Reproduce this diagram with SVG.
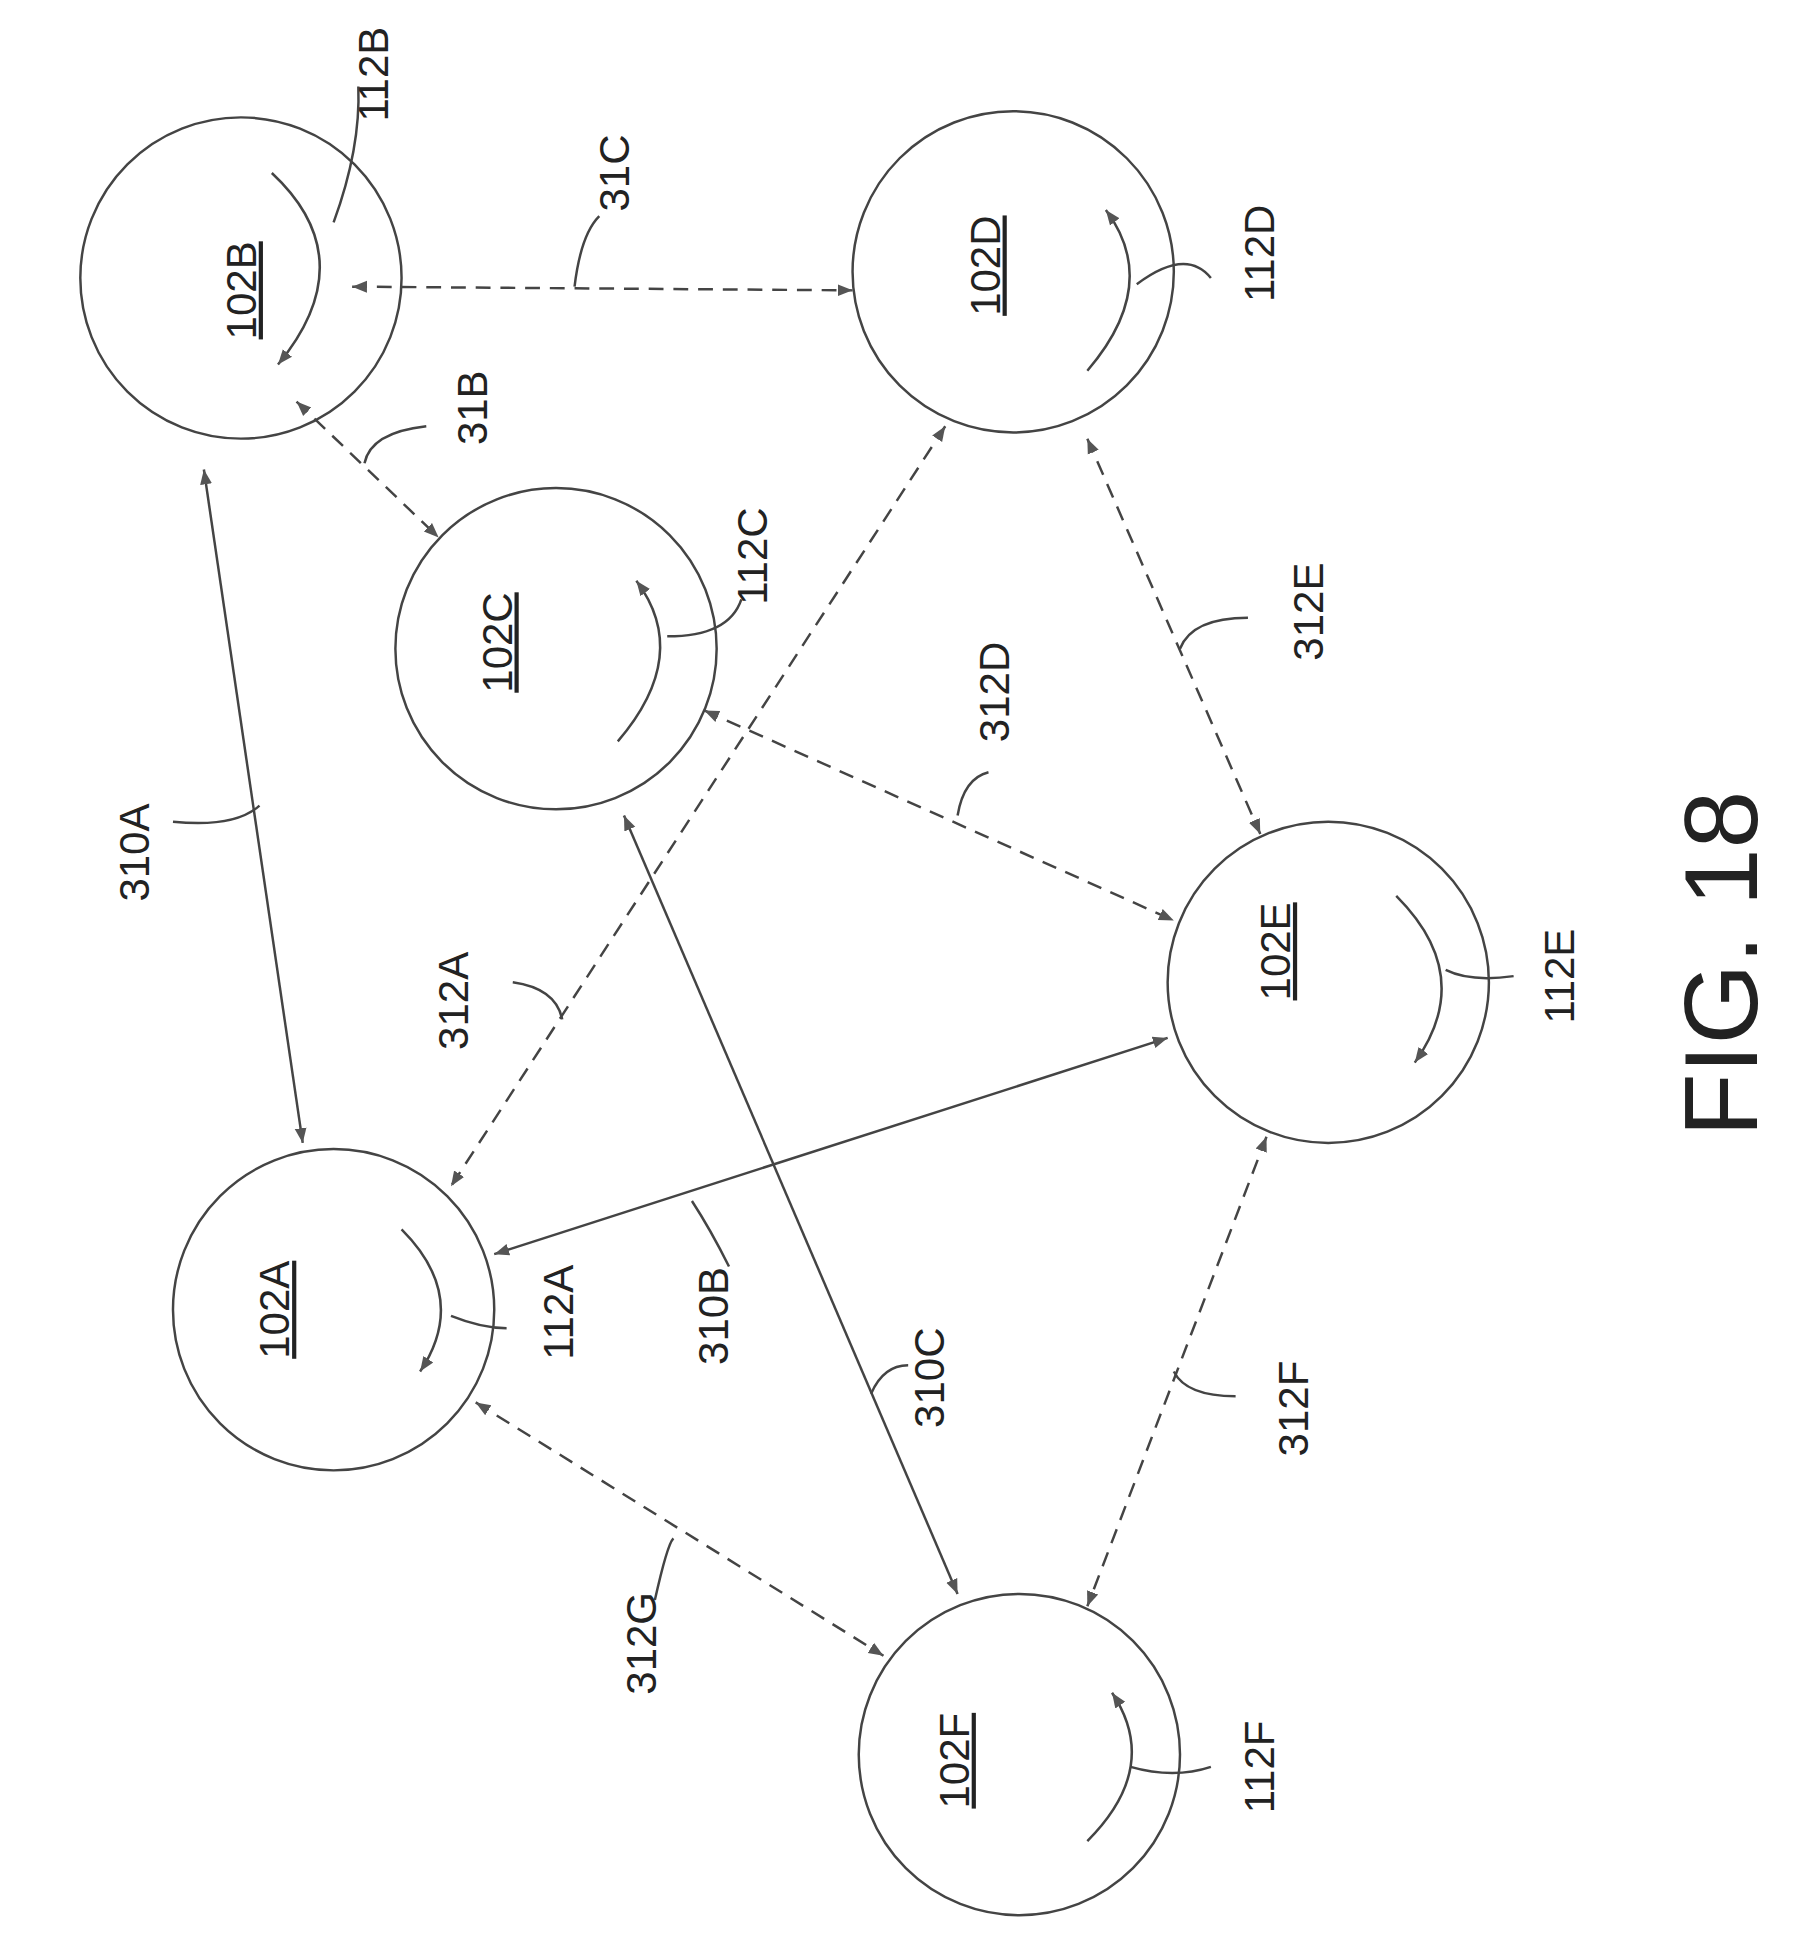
<svg xmlns="http://www.w3.org/2000/svg" width="1799" height="1951" viewBox="0 0 1799 1951">
<style>
.n{fill:none;stroke:#444;stroke-width:2}
.s{fill:none;stroke:#444;stroke-width:2}
.d{stroke-dasharray:12,8}
text{font-family:"Liberation Sans",Arial,sans-serif;font-size:34px;fill:#222;text-anchor:middle;dominant-baseline:middle}
.u{text-decoration:underline}
</style>
<defs>
<marker id="a" viewBox="0 0 10 10" refX="10" refY="5" markerWidth="12" markerHeight="12" markerUnits="userSpaceOnUse" orient="auto-start-reverse"><path d="M0,1L10,5L0,9Z" fill="#555"/></marker>
</defs>
<rect width="1799" height="1951" fill="#fff"/>
<g transform="scale(1.2356)">
<g id="n102B"><circle class="n" cx="195" cy="225" r="130"/><text class="u" transform="translate(198,235) rotate(-90)">102B</text><path class="s" d="M220,140 Q295,210 225,295" marker-end="url(#a)"/></g>
<g id="n102D"><circle class="n" cx="820" cy="220" r="130"/><text class="u" transform="translate(800,215) rotate(-90)">102D</text><path class="s" d="M880,300 Q940,230 895,170" marker-end="url(#a)"/></g>
<g id="n102C"><circle class="n" cx="450" cy="525" r="130"/><text class="u" transform="translate(405,520) rotate(-90)">102C</text><path class="s" d="M500,600 Q560,530 515,470" marker-end="url(#a)"/></g>
<g id="n102E"><circle class="n" cx="1075" cy="795" r="130"/><text class="u" transform="translate(1035,770) rotate(-90)">102E</text><path class="s" d="M1130,725 Q1195,790 1145,860" marker-end="url(#a)"/></g>
<g id="n102A"><circle class="n" cx="270" cy="1060" r="130"/><text class="u" transform="translate(225,1060) rotate(-90)">102A</text><path class="s" d="M325,995 Q380,1050 340,1110" marker-end="url(#a)"/></g>
<g id="n102F"><circle class="n" cx="825" cy="1420" r="130"/><text class="u" transform="translate(775,1425) rotate(-90)">102F</text><path class="s" d="M880,1490 Q940,1430 900,1370" marker-end="url(#a)"/></g>
<g id="connectors">
<line class="s d" x1="285" y1="232" x2="690" y2="235" marker-start="url(#a)" marker-end="url(#a)"/>
<line class="s d" x1="240" y1="325" x2="355" y2="435" marker-start="url(#a)" marker-end="url(#a)"/>
<line class="s" x1="165" y1="380" x2="245" y2="925" marker-start="url(#a)" marker-end="url(#a)"/>
<line class="s d" x1="765" y1="345" x2="365" y2="960" marker-start="url(#a)" marker-end="url(#a)"/>
<line class="s" x1="505" y1="660" x2="775" y2="1290" marker-start="url(#a)" marker-end="url(#a)"/>
<line class="s d" x1="570" y1="575" x2="950" y2="745" marker-start="url(#a)" marker-end="url(#a)"/>
<line class="s d" x1="880" y1="355" x2="1020" y2="675" marker-start="url(#a)" marker-end="url(#a)"/>
<line class="s" x1="945" y1="840" x2="400" y2="1015" marker-start="url(#a)" marker-end="url(#a)"/>
<line class="s d" x1="1025" y1="920" x2="880" y2="1300" marker-start="url(#a)" marker-end="url(#a)"/>
<line class="s d" x1="385" y1="1135" x2="715" y2="1340" marker-start="url(#a)" marker-end="url(#a)"/>
</g>
<g id="labels">
<path class="s" d="M485,175 Q470,190 465,232"/><text transform="translate(500,140) rotate(-90)">31C</text>
<path class="s" d="M345,345 Q300,350 295,375"/><text transform="translate(385,330) rotate(-90)">31B</text>
<path class="s" d="M140,665 Q190,670 210,652"/><text transform="translate(112,690) rotate(-90)">310A</text>
<path class="s" d="M415,795 Q450,800 455,825"/><text transform="translate(370,810) rotate(-90)">312A</text>
<path class="s" d="M800,625 Q780,630 775,660"/><text transform="translate(808,560) rotate(-90)">312D</text>
<path class="s" d="M1010,500 Q965,500 955,525"/><text transform="translate(1062,495) rotate(-90)">312E</text>
<path class="s" d="M590,1025 Q575,995 560,972"/><text transform="translate(580,1065) rotate(-90)">310B</text>
<path class="s" d="M735,1105 Q715,1105 705,1128"/><text transform="translate(755,1115) rotate(-90)">310C</text>
<path class="s" d="M1000,1130 Q960,1130 950,1110"/><text transform="translate(1050,1140) rotate(-90)">312F</text>
<path class="s" d="M530,1295 Q540,1250 545,1245"/><text transform="translate(522,1330) rotate(-90)">312G</text>
<path class="s" d="M270,180 Q292,120 290,70"/><text transform="translate(305,60) rotate(-90)">112B</text>
<path class="s" d="M920,230 Q960,200 980,225"/><text transform="translate(1022,205) rotate(-90)">112D</text>
<path class="s" d="M540,515 Q590,515 600,485"/><text transform="translate(612,450) rotate(-90)">112C</text>
<path class="s" d="M1170,785 Q1190,795 1225,790"/><text transform="translate(1265,790) rotate(-90)">112E</text>
<path class="s" d="M365,1065 Q390,1075 410,1075"/><text transform="translate(455,1062) rotate(-90)">112A</text>
<path class="s" d="M915,1430 Q950,1440 980,1430"/><text transform="translate(1022,1430) rotate(-90)">112F</text>
<text transform="translate(1400,780) rotate(-90)" style="font-size:84px">FIG. 18</text>
</g>
</g>
</svg>
